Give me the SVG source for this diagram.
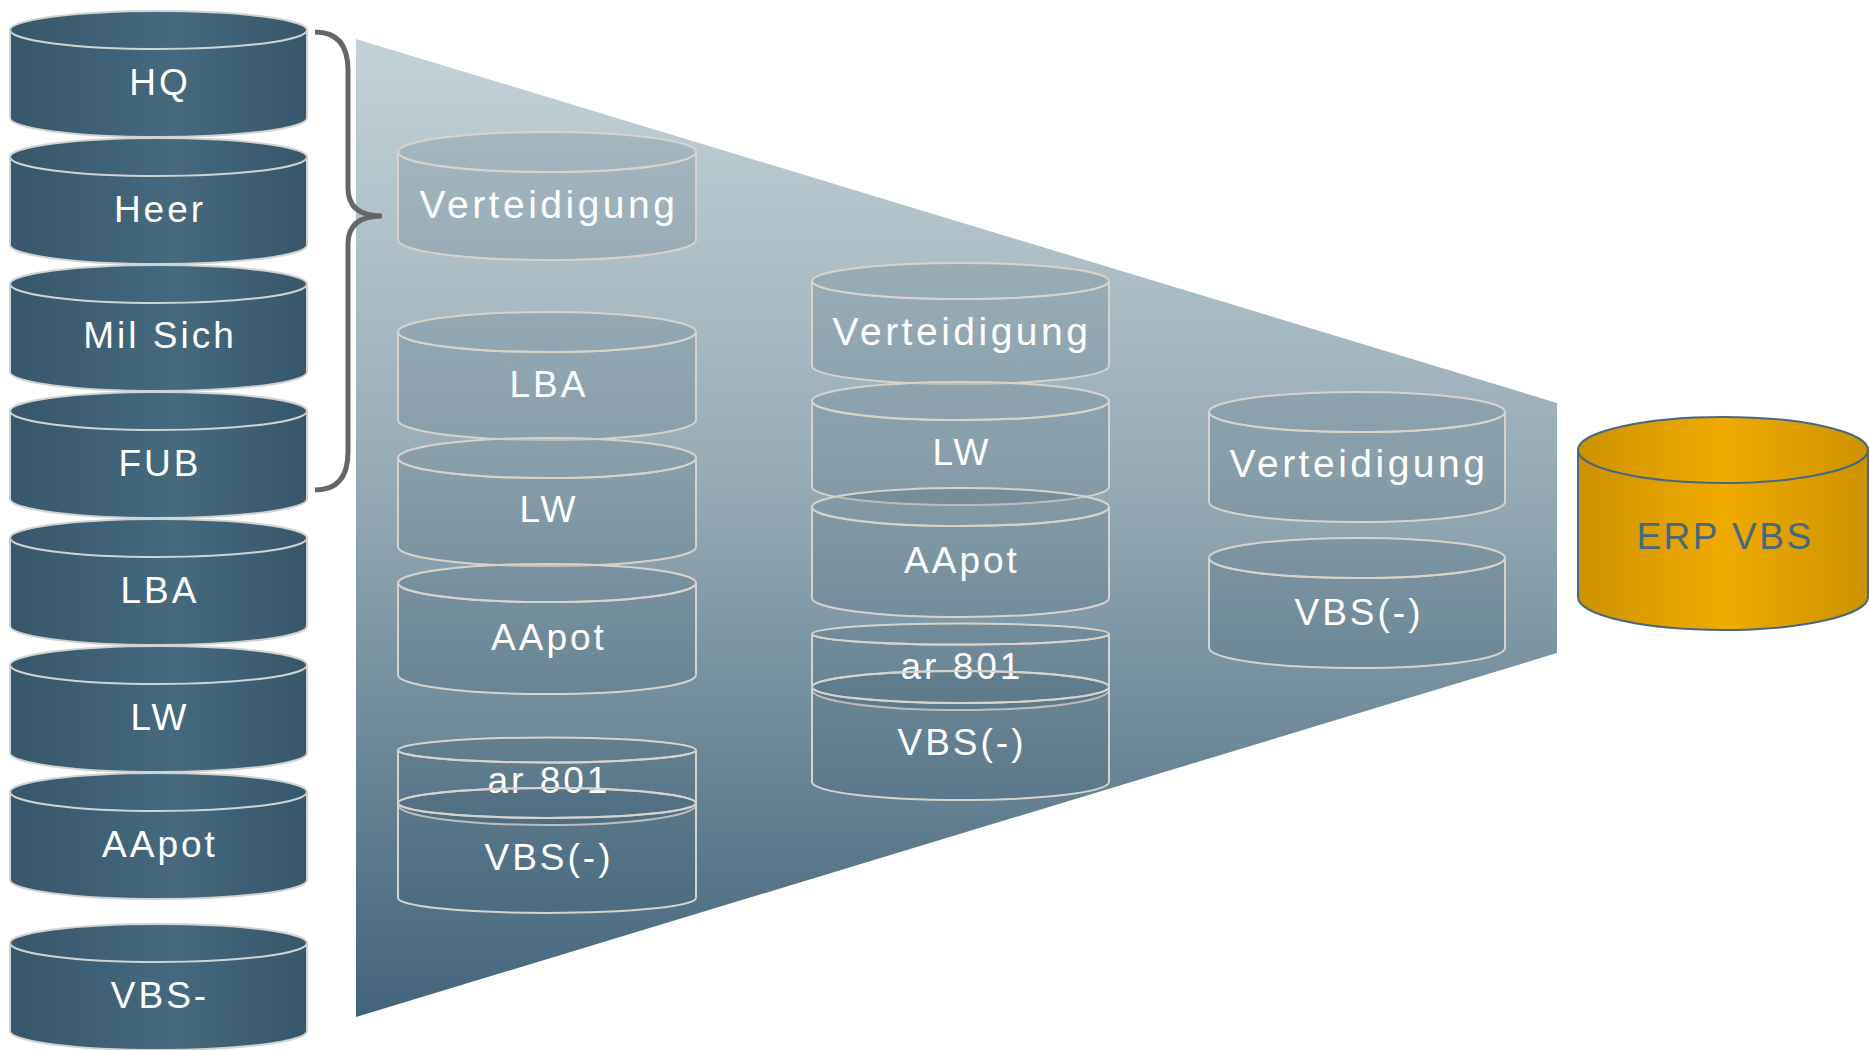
<svg xmlns="http://www.w3.org/2000/svg" width="1869" height="1050" viewBox="0 0 1869 1050">
<defs>
<linearGradient id="gLeft" x1="0" y1="0" x2="1" y2="0">
<stop offset="0" stop-color="#37576a"/><stop offset="0.55" stop-color="#46697e"/><stop offset="1" stop-color="#37576a"/>
</linearGradient>
<linearGradient id="gFunnel" gradientUnits="userSpaceOnUse" x1="0" y1="39" x2="0" y2="1017">
<stop offset="0" stop-color="#c4d2d8"/><stop offset="0.45" stop-color="#97abb5"/><stop offset="1" stop-color="#42647a"/>
</linearGradient>
<linearGradient id="gErp" x1="0" y1="0" x2="1" y2="0">
<stop offset="0" stop-color="#cc9200"/><stop offset="0.5" stop-color="#f0ab00"/><stop offset="1" stop-color="#cc9200"/>
</linearGradient>
<style>
.lc{fill:url(#gLeft);stroke:#d2d2d2;stroke-width:2}
.ic{fill:#284a5e;fill-opacity:0.15;stroke:#d8d2cc;stroke-width:2}
.io{fill:none;stroke:#d8d2cc;stroke-width:2}
.t{font-family:"Liberation Sans",Arial,sans-serif;font-size:37px;fill:#ffffff;text-anchor:middle;letter-spacing:3px}
.tv{font-size:39px;letter-spacing:3.5px}
.te{fill:#47687e;letter-spacing:2.5px}
</style>
</defs>

<g id="funnel"><polygon points="356,39 1557,403 1557,653 356,1017" fill="url(#gFunnel)"/></g>

<g id="left-HQ">
<path class="lc" d="M10,30 V118 A148.5,19 0 0 0 307,118 V30 Z"/><ellipse class="lc" cx="158.5" cy="30" rx="148.5" ry="19"/>
<text class="t" x="160" y="95">HQ</text></g>
<g id="left-Heer">
<path class="lc" d="M10,157 V245 A148.5,19 0 0 0 307,245 V157 Z"/><ellipse class="lc" cx="158.5" cy="157" rx="148.5" ry="19"/>
<text class="t" x="160" y="222">Heer</text></g>
<g id="left-MilSich">
<path class="lc" d="M10,284 V372 A148.5,19 0 0 0 307,372 V284 Z"/><ellipse class="lc" cx="158.5" cy="284" rx="148.5" ry="19"/>
<text class="t" x="160" y="348">Mil Sich</text></g>
<g id="left-FUB">
<path class="lc" d="M10,411 V499 A148.5,19 0 0 0 307,499 V411 Z"/><ellipse class="lc" cx="158.5" cy="411" rx="148.5" ry="19"/>
<text class="t" x="160" y="476">FUB</text></g>
<g id="left-LBA">
<path class="lc" d="M10,538 V626 A148.5,19 0 0 0 307,626 V538 Z"/><ellipse class="lc" cx="158.5" cy="538" rx="148.5" ry="19"/>
<text class="t" x="160" y="603">LBA</text></g>
<g id="left-LW">
<path class="lc" d="M10,665 V753 A148.5,19 0 0 0 307,753 V665 Z"/><ellipse class="lc" cx="158.5" cy="665" rx="148.5" ry="19"/>
<text class="t" x="160" y="730">LW</text></g>
<g id="left-AApot">
<path class="lc" d="M10,792 V880 A148.5,19 0 0 0 307,880 V792 Z"/><ellipse class="lc" cx="158.5" cy="792" rx="148.5" ry="19"/>
<text class="t" x="160" y="857">AApot</text></g>
<g id="left-VBS">
<path class="lc" d="M10,943 V1031 A148.5,19 0 0 0 307,1031 V943 Z"/><ellipse class="lc" cx="158.5" cy="943" rx="148.5" ry="19"/>
<text class="t" x="160" y="1008">VBS-</text></g>

<g id="connectors">
<path d="M315,32 Q348,32 348,70 L348,188 Q348,216 382,216 Q348,216 348,244 L348,452 Q348,490 315,490" fill="none" stroke="#666666" stroke-width="5"/>
</g>

<!-- column 1 -->
<g id="c1-Verteidigung">
<path class="ic" d="M398,152 A149,20 0 0 0 696,152 V240 A149,20 0 0 1 398,240 Z"/><ellipse class="ic" cx="547" cy="152" rx="149" ry="20"/>
<text class="t tv" x="549" y="218">Verteidigung</text></g>
<g id="c1-LBA">
<path class="ic" d="M398,332 A149,20 0 0 0 696,332 V420 A149,20 0 0 1 398,420 Z"/><ellipse class="ic" cx="547" cy="332" rx="149" ry="20"/>
<text class="t" x="549" y="397">LBA</text></g>
<g id="c1-LW">
<path class="ic" d="M398,458 A149,20 0 0 0 696,458 V547 A149,19 0 0 1 398,547 Z"/><ellipse class="ic" cx="547" cy="458" rx="149" ry="20"/>
<text class="t" x="549" y="522">LW</text></g>
<g id="c1-AApot">
<path class="ic" d="M398,583 A149,19 0 0 0 696,583 V675 A149,19 0 0 1 398,675 Z"/><ellipse class="ic" cx="547" cy="583" rx="149" ry="19"/>
<text class="t" x="549" y="650">AApot</text></g>
<g id="c1-ar801-VBS">
<path class="ic" d="M398,750 A149,12.5 0 0 0 696,750 V805 A149,20 0 0 1 398,805 Z"/><ellipse class="ic" cx="547" cy="750" rx="149" ry="12.5"/>
<path class="ic" d="M398,803 A149,15 0 0 0 696,803 V898 A149,15 0 0 1 398,898 Z"/><ellipse class="ic" cx="547" cy="803" rx="149" ry="15"/>
<text class="t" x="549" y="793">ar 801</text>
<path class="io" d="M398,803 A149,15 0 0 1 696,803"/>
<text class="t" x="549" y="870">VBS(-)</text></g>

<!-- column 2 -->
<g id="c2-Verteidigung">
<path class="ic" d="M812,281 A148.5,18 0 0 0 1109,281 V366 A148.5,18 0 0 1 812,366 Z"/><ellipse class="ic" cx="960.5" cy="281" rx="148.5" ry="18"/>
<text class="t tv" x="962" y="345">Verteidigung</text></g>
<g id="c2-LW">
<path class="ic" d="M812,401 A148.5,19 0 0 0 1109,401 V487 A148.5,18 0 0 1 812,487 Z"/><ellipse class="ic" cx="960.5" cy="401" rx="148.5" ry="19"/>
<text class="t" x="962" y="465">LW</text></g>
<g id="c2-AApot">
<path class="ic" d="M812,507 A148.5,19 0 0 0 1109,507 V598 A148.5,19 0 0 1 812,598 Z"/><ellipse class="ic" cx="960.5" cy="507" rx="148.5" ry="19"/>
<text class="t" x="962" y="573">AApot</text></g>
<g id="c2-ar801-VBS">
<path class="ic" d="M812,634 A148.5,10.5 0 0 0 1109,634 V690 A148.5,20 0 0 1 812,690 Z"/><ellipse class="ic" cx="960.5" cy="634" rx="148.5" ry="10.5"/>
<path class="ic" d="M812,687 A148.5,16 0 0 0 1109,687 V782 A148.5,18 0 0 1 812,782 Z"/><ellipse class="ic" cx="960.5" cy="687" rx="148.5" ry="16"/>
<text class="t" x="962" y="679">ar 801</text>
<path class="io" d="M812,687 A148.5,16 0 0 1 1109,687"/>
<text class="t" x="962" y="755">VBS(-)</text></g>

<!-- column 3 -->
<g id="c3-Verteidigung">
<path class="ic" d="M1209,412 A148,20 0 0 0 1505,412 V502 A148,20 0 0 1 1209,502 Z"/><ellipse class="ic" cx="1357" cy="412" rx="148" ry="20"/>
<text class="t tv" x="1359" y="477">Verteidigung</text></g>
<g id="c3-VBS">
<path class="ic" d="M1209,558 A148,20 0 0 0 1505,558 V648 A148,20 0 0 1 1209,648 Z"/><ellipse class="ic" cx="1357" cy="558" rx="148" ry="20"/>
<text class="t" x="1359" y="625">VBS(-)</text></g>

<g id="erp">
<path d="M1578,450 V597 A145,33 0 0 0 1868,597 V450 Z" fill="url(#gErp)" stroke="#436a82" stroke-width="2"/>
<ellipse cx="1723" cy="450" rx="145" ry="33" fill="url(#gErp)" stroke="#436a82" stroke-width="2"/>
<text class="t te" x="1725" y="549">ERP VBS</text></g>
</svg>
